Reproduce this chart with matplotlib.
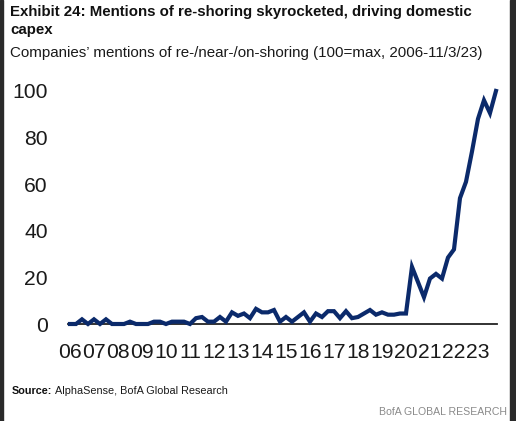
import matplotlib
matplotlib.use("Agg")
import matplotlib.pyplot as plt
from matplotlib.patches import Rectangle

# quarterly index, 2006Q1 .. 2023Q4 (100 = max)
years = ["06", "07", "08", "09", "10", "11", "12", "13", "14", "15",
         "16", "17", "18", "19", "20", "21", "22", "23"]
mentions = [
    0, 0, 2, 0, 2, 0, 2, 0,            # 2006-07
    0, 0, 1, 0, 0, 0, 1, 1,            # 2008-09
    0, 1, 1, 1, 0, 2.5, 3, 1,          # 2010-11
    1, 3, 1, 5, 3.5, 4.5, 2.5, 6.5,    # 2012-13
    5, 5, 6, 1, 3, 1, 3, 5,            # 2014-15
    1, 4.5, 3, 5.5, 5.5, 2.5, 5.5, 2.5,  # 2016-17
    3, 4.5, 6, 4, 5, 4, 4, 4.5,        # 2018-19
    4.5, 24.5, 18, 11.5, 19.5, 21.5, 19.5, 28.5,  # 2020-21
    32, 54, 61, 74, 88, 96, 90.5, 100,  # 2022-23
]

W, H = 516, 421
NAVY = "#0b2a6b"
FONT = ["Liberation Sans", "DejaVu Sans"]

fig = plt.figure(figsize=(W / 100, H / 100), dpi=100)


def px_text(x, y, s, **kw):
    # place text using pixel coords measured from the top-left corner
    fig.text(x / W, 1 - y / H, s, va="baseline", family=FONT, **kw)


ax = fig.add_axes([68 / W, (H - 324) / H, 429 / W, 244.7 / H])
ax.plot(range(len(mentions)), mentions, color=NAVY, lw=3.0,
        solid_joinstyle="miter", clip_on=False, zorder=3)
ax.set_xlim(-0.33, 71.17)
ax.set_ylim(0, 105)

for s in ["top", "right", "left"]:
    ax.spines[s].set_visible(False)
ax.spines["bottom"].set_color("#222222")
ax.spines["bottom"].set_linewidth(1.3)

ax.set_xticks(range(0, 72, 4))
ax.set_xticklabels(years)
ax.set_yticks([0, 20, 40, 60, 80, 100])
ax.tick_params(axis="both", length=0, labelsize=15.2, colors="#1a1a1a")
ax.tick_params(axis="x", pad=14)
ax.tick_params(axis="y", pad=14.5)
for lab in ax.get_xticklabels() + ax.get_yticklabels():
    lab.set_family(FONT)

px_text(10, 16, "Exhibit 24: Mentions of re-shoring skyrocketed, driving domestic",
        fontsize=10.8, fontweight="bold", color="#111111")
px_text(10, 34, "capex", fontsize=10.8, fontweight="bold", color="#111111")
px_text(10, 57, "Companies\u2019 mentions of re-/near-/on-shoring (100=max, 2006-11/3/23)",
        fontsize=10.9, color="#1a1a1a")

px_text(12, 394, "Source:", fontsize=7.8, fontweight="bold", color="#111111")
px_text(55, 394, "AlphaSense, BofA Global Research", fontsize=7.8, color="#1a1a1a")
px_text(507, 415, "BofA GLOBAL RESEARCH", fontsize=7.6, color="#8a8a8a", ha="right")

# dark frame edges at left and right
fig.patches.append(Rectangle((0, 0), 3 / W, 1, transform=fig.transFigure,
                             color="#2a2a2a", zorder=0))
fig.patches.append(Rectangle((510 / W, 0), 6 / W, 1, transform=fig.transFigure,
                             color="#2a2a2a", zorder=0))

fig.savefig("out.png", dpi=100)
